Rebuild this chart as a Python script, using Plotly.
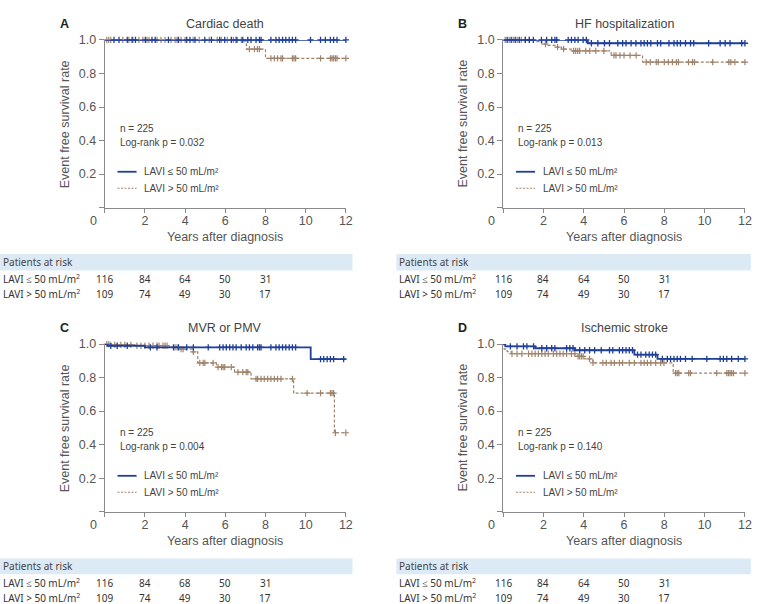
import numpy as np
import plotly.graph_objects as go

# ---------------- data ----------------
panel_letters = ["A", "B", "C", "D"]
panel_titles = ["Cardiac death", "HF hospitalization", "MVR or PMV", "Ischemic stroke"]
logrank_p = ["0.032", "0.013", "0.004", "0.140"]
n_total = 225

# Kaplan-Meier steps (event times, survival after event) and censor times
a_low_t = []
a_low_s = []
a_low_c = [0.46, 0.71, 1.12, 1.36, 1.53, 2.02, 2.35, 2.51, 3.17, 3.67, 4.08, 4.24, 4.49, 4.98, 5.31,
           5.72, 5.97, 6.30, 6.54, 6.87, 7.12, 7.28, 7.53, 7.70, 7.78, 8.27, 8.52, 8.68, 8.85, 9.01,
           9.18, 9.34, 9.50, 10.24, 10.74, 10.98, 11.23, 11.39, 11.56, 12.0]
a_high_t = [6.95, 7.05, 8.0]
a_high_s = [0.993, 0.945, 0.89]
a_high_c = [0.1, 0.2, 0.3, 0.9, 1.2, 1.4, 1.7, 1.9, 2.1, 2.2, 2.6, 2.8, 3.0, 3.3, 3.5, 3.6, 3.8, 4.0,
            4.4, 4.7, 5.2, 5.6, 5.8, 6.1, 6.4, 6.6, 6.8, 7.2, 7.45, 7.6, 7.7, 8.27, 8.44, 8.6, 8.77,
            8.85, 9.34, 9.42, 9.5, 10.74, 11.23, 11.31, 11.39, 11.48, 11.56, 12.0]

b_low_t = [4.2]
b_low_s = [0.98]
b_low_c = [0.2, 0.4, 0.6, 0.8, 1.1, 1.3, 1.5, 1.9, 2.16, 2.41, 2.57, 2.66, 3.23, 3.39, 3.56, 3.72,
           3.97, 4.13, 4.38, 4.70, 5.03, 5.28, 5.69, 5.93, 6.10, 6.35, 6.59, 6.84, 7.0, 7.16, 7.33,
           7.66, 7.82, 8.23, 8.48, 8.64, 8.80, 9.05, 9.30, 9.46, 10.2, 10.77, 11.02, 11.26, 11.84, 12.0]
b_high_t = [1.65, 1.92, 2.24, 2.57, 2.9, 3.39, 5.36, 6.92]
b_high_s = [0.99, 0.975, 0.967, 0.957, 0.945, 0.935, 0.908, 0.867]
b_high_c = [0.1, 0.3, 0.5, 0.7, 0.9, 1.1, 1.3, 2.1, 2.7, 3.0, 3.5, 3.6, 3.7, 3.8, 4.1, 4.3, 4.6, 5.0,
            5.5, 5.6, 5.8, 6.0, 6.3, 6.6, 7.1, 7.3, 7.6, 7.7, 8.0, 8.2, 8.4, 8.6, 8.7, 9.2, 9.4, 9.5,
            10.4, 11.2, 11.3, 11.5, 12.0]

c_low_t = [0.15, 2.0, 10.25]
c_low_s = [0.99, 0.98, 0.91]
c_low_c = [0.3, 0.62, 1.12, 2.27, 2.6, 3.42, 3.67, 4.08, 4.41, 5.15, 5.72, 5.89, 6.05, 6.22, 6.38,
           6.54, 6.79, 7.04, 7.2, 7.37, 7.61, 7.7, 7.78, 8.27, 8.52, 8.68, 8.85, 9.01, 9.18, 9.34,
           9.5, 10.74, 10.9, 11.07, 11.23, 11.39, 11.89]
c_high_t = [0.4, 1.5, 3.2, 3.72, 4.38, 4.63, 5.56, 6.46, 7.28, 9.4, 11.43]
c_high_s = [0.995, 0.99, 0.98, 0.97, 0.953, 0.888, 0.862, 0.833, 0.792, 0.707, 0.471]
c_high_c = [0.1, 0.2, 0.5, 0.8, 1.0, 1.3, 1.6, 1.8, 2.0, 2.2, 2.4, 2.6, 2.7, 2.9, 3.0, 3.1, 3.5, 3.6,
            3.8, 3.9, 4.41, 4.73, 4.9, 4.98, 5.39, 5.64, 5.81, 5.89, 5.97, 6.3, 6.63, 6.87, 7.04,
            7.12, 7.53, 7.61, 7.78, 7.94, 8.11, 8.27, 8.44, 8.6, 8.77, 9.34, 10.07, 10.74, 11.23,
            11.31, 11.39, 11.48, 12.0]

d_low_t = [0.11, 1.59, 3.56, 6.51, 7.66]
d_low_s = [0.986, 0.975, 0.963, 0.937, 0.911]
d_low_c = [0.36, 0.69, 1.01, 1.18, 1.51, 1.92, 2.16, 2.41, 2.57, 3.15, 3.31, 3.47, 3.80, 4.05, 4.29,
           4.54, 4.87, 5.28, 5.44, 5.77, 5.93, 6.10, 6.26, 6.42, 6.67, 6.84, 7.08, 7.25, 7.41, 7.57,
           7.90, 8.15, 8.31, 8.48, 8.64, 8.80, 9.05, 9.38, 10.11, 10.77, 10.93, 11.10, 11.34, 11.67, 12.0]
d_high_t = [0.05, 0.2, 0.4, 3.6, 4.05, 4.46, 8.44]
d_high_s = [0.97, 0.955, 0.942, 0.927, 0.911, 0.888, 0.827]
d_high_c = [0.44, 0.69, 0.93, 1.26, 1.43, 1.59, 1.75, 1.92, 2.08, 2.24, 2.49, 2.66, 2.82, 2.98, 3.15,
            3.39, 3.56, 3.72, 3.80, 3.89, 3.97, 4.29, 4.46, 4.95, 5.12, 5.36, 5.52, 5.77, 5.93, 6.26,
            6.51, 6.84, 7.0, 7.16, 7.33, 7.57, 7.82, 7.98, 8.56, 8.64, 8.72, 9.21, 9.30, 10.6, 11.1,
            11.18, 11.26, 11.34, 11.43, 12.0]

# patients at risk
risk_years = [0, 2, 4, 6, 8]
a_risk_low = [116, 84, 64, 50, 31]
a_risk_high = [109, 74, 49, 30, 17]
b_risk_low = [116, 84, 64, 50, 31]
b_risk_high = [109, 74, 49, 30, 17]
c_risk_low = [116, 84, 68, 50, 31]
c_risk_high = [109, 74, 49, 30, 17]
d_risk_low = [116, 84, 64, 50, 31]
d_risk_high = [109, 74, 49, 30, 17]

x_ticks = [0, 2, 4, 6, 8, 10, 12]
y_ticks = [0, 0.2, 0.4, 0.6, 0.8, 1.0]
x_end = 12

label_low = "LAVI ≤ 50 mL/m²"
label_high = "LAVI > 50 mL/m²"
risk_label_low = "LAVI ≤ 50 mL/m<sup>2</sup>"
risk_label_high = "LAVI > 50 mL/m<sup>2</sup>"

panels = [
    (a_low_t, a_low_s, a_low_c, a_high_t, a_high_s, a_high_c, a_risk_low, a_risk_high),
    (b_low_t, b_low_s, b_low_c, b_high_t, b_high_s, b_high_c, b_risk_low, b_risk_high),
    (c_low_t, c_low_s, c_low_c, c_high_t, c_high_s, c_high_c, c_risk_low, c_risk_high),
    (d_low_t, d_low_s, d_low_c, d_high_t, d_high_s, d_high_c, d_risk_low, d_risk_high),
]

# ---------------- style / layout ----------------
W, H = 777, 604
BLUE = "#1f3f99"
BROWN = "#a0836b"
AXIS = "#8a8a8a"
TXT = "#444444"
BAND = "#dceaf6"
FONT = "Liberation Sans"
TFONT = "Noto Sans"

x_dom_left = [105.7 / W, 349.0 / W]
x_dom_right = [507.7 / W, 751.7 / W]
y_dom_top = [1 - 203.0 / H, 1 - 33.3 / H]
y_dom_bot = [1 - 510.6 / H, 1 - 341.0 / H]
doms = [(x_dom_left, y_dom_top), (x_dom_right, y_dom_top),
        (x_dom_left, y_dom_bot), (x_dom_right, y_dom_bot)]

# table geometry (pixels): band left, band right, band top, band bottom, row1 y, row2 y
tables = [(0, 355.7, 250, 266.7, 275, 290.5), (400, 757.7, 250, 266.7, 275, 290.5),
          (0, 355.7, 558, 574, 582.3, 598), (400, 757.7, 558, 574, 582.3, 598)]


def step_curve(times, surv):
    xs = [0.0] + list(times) + [x_end]
    ys = [1.0] + list(surv) + [surv[-1] if surv else 1.0]
    return xs, ys


def surv_at(times, surv, cens):
    t = np.asarray(times, dtype=float)
    s = np.asarray([1.0] + list(surv))
    idx = np.searchsorted(t, np.asarray(cens, dtype=float), side="right")
    return s[idx]


def ann(**kw):
    d = dict(showarrow=False, xanchor="center", yanchor="middle")
    d.update(kw)
    return d


fig = go.Figure()
layout = dict(width=W, height=H, margin=dict(l=0, r=0, t=0, b=0),
              paper_bgcolor="white", plot_bgcolor="white", showlegend=False,
              font=dict(family=FONT, color=TXT))
annotations = []
shapes = []

for i, (lt, ls, lc, ht, hs, hc, rl, rh) in enumerate(panels):
    k = "" if i == 0 else str(i + 1)
    xa, ya = "x" + k, "y" + k
    xd, yd = doms[i]
    layout["xaxis" + k] = dict(domain=xd, anchor=ya, range=[0, x_end], showline=True, linecolor=AXIS,
                               linewidth=1, ticks="outside", ticklen=4, tickcolor=AXIS, showgrid=False,
                               zeroline=False, tickvals=x_ticks, ticklabelstandoff=-3,
                               ticktext=[""] + [str(v) for v in x_ticks[1:]],
                               tickfont=dict(size=12.5, color="#555555", family=FONT), fixedrange=True)
    layout["yaxis" + k] = dict(domain=yd, anchor=xa, range=[0, 1], showline=True, linecolor=AXIS,
                               linewidth=1, ticks="outside", ticklen=5, tickcolor=AXIS, showgrid=False,
                               zeroline=False, tickvals=y_ticks,
                               ticktext=[""] + ["%.1f" % v for v in y_ticks[1:]],
                               tickfont=dict(size=12.5, color="#555555", family=FONT), fixedrange=True)

    # curves
    hx, hy = step_curve(ht, hs)
    fig.add_trace(go.Scatter(x=hx, y=hy, mode="lines", line=dict(color=BROWN, width=1.2, dash="3px,2px", shape="hv"),
                             xaxis=xa, yaxis=ya, cliponaxis=False, hoverinfo="skip"))
    fig.add_trace(go.Scatter(x=hc, y=surv_at(ht, hs, hc), mode="markers",
                             marker=dict(symbol="cross-thin", size=4.5, color=BROWN, line=dict(color=BROWN, width=1.2)),
                             xaxis=xa, yaxis=ya, cliponaxis=False, hoverinfo="skip"))
    lx, ly = step_curve(lt, ls)
    fig.add_trace(go.Scatter(x=lx, y=ly, mode="lines", line=dict(color=BLUE, width=1.8, shape="hv"),
                             xaxis=xa, yaxis=ya, cliponaxis=False, hoverinfo="skip"))
    fig.add_trace(go.Scatter(x=lc, y=surv_at(lt, ls, lc), mode="markers",
                             marker=dict(symbol="cross-thin", size=4.5, color=BLUE, line=dict(color=BLUE, width=1.3)),
                             xaxis=xa, yaxis=ya, cliponaxis=False, hoverinfo="skip"))

    xr, yr = xa + " domain", ya + " domain"
    # letter & title
    annotations.append(ann(xref=xr, yref=yr, x=-0.167, y=1.096, text="<b>%s</b>" % panel_letters[i],
                           font=dict(size=12.5, color="#222222", family=FONT)))
    annotations.append(ann(xref=xr, yref=yr, x=0.5, y=1.096, text=panel_titles[i],
                           font=dict(size=12.5, color=TXT, family=FONT)))
    # axis titles
    annotations.append(ann(xref=xr, yref=yr, x=-0.167, y=0.5, text="Event free survival rate", textangle=-90,
                           font=dict(size=12.5, color="#555555", family=FONT)))
    annotations.append(ann(xref=xr, yref=yr, x=0.5, y=-0.173, text="Years after diagnosis",
                           font=dict(size=12.5, color="#555555", family=FONT)))
    annotations.append(ann(xref=xr, yref=yr, x=-0.048, y=-0.082, text="0",
                           font=dict(size=12.5, color="#555555", family=FONT)))
    # stats text
    annotations.append(ann(xref=xr, yref=yr, x=0.053, y=0.471, text="n = %d" % n_total, xanchor="left",
                           font=dict(size=10, color=TXT, family=FONT)))
    annotations.append(ann(xref=xr, yref=yr, x=0.053, y=0.387, text="Log-rank p = %s" % logrank_p[i],
                           xanchor="left", font=dict(size=10, color=TXT, family=FONT)))
    # legend
    shapes.append(dict(type="line", xref=xr, yref=yr, x0=0.053, x1=0.132, y0=0.214, y1=0.214,
                       line=dict(color=BLUE, width=1.8)))
    shapes.append(dict(type="line", xref=xr, yref=yr, x0=0.053, x1=0.132, y0=0.116, y1=0.116,
                       line=dict(color=BROWN, width=1.1, dash="2px,1.5px")))
    annotations.append(ann(xref=xr, yref=yr, x=0.156, y=0.214, text=label_low, xanchor="left",
                           font=dict(size=10, color=TXT, family=FONT)))
    annotations.append(ann(xref=xr, yref=yr, x=0.156, y=0.116, text=label_high, xanchor="left",
                           font=dict(size=10, color=TXT, family=FONT)))

    # risk table
    bl, br, bt, bb, r1, r2 = tables[i]
    shapes.append(dict(type="rect", xref="paper", yref="paper", x0=bl / W, x1=br / W, y0=1 - bb / H, y1=1 - bt / H,
                       fillcolor=BAND, line=dict(width=0), layer="below"))
    annotations.append(ann(xref="paper", yref="paper", x=(bl + 1) / W, y=1 - (bt + bb) / 2 / H,
                           text="Patients at risk", xanchor="left",
                           font=dict(size=10, color="#444444", family=TFONT)))
    for ry, lab, vals in ((r1, risk_label_low, rl), (r2, risk_label_high, rh)):
        annotations.append(ann(xref="paper", yref="paper", x=(bl + 1) / W, y=1 - ry / H, text=lab,
                               xanchor="left", font=dict(size=10, color="#333333", family=TFONT)))
        for yv, v in zip(risk_years, vals):
            annotations.append(ann(xref=xa, yref="paper", x=yv, y=1 - ry / H, text=str(v),
                                   font=dict(size=10, color="#333333", family=TFONT)))

layout["annotations"] = annotations
layout["shapes"] = shapes
fig.update_layout(**layout)
fig.write_html("out.html")
